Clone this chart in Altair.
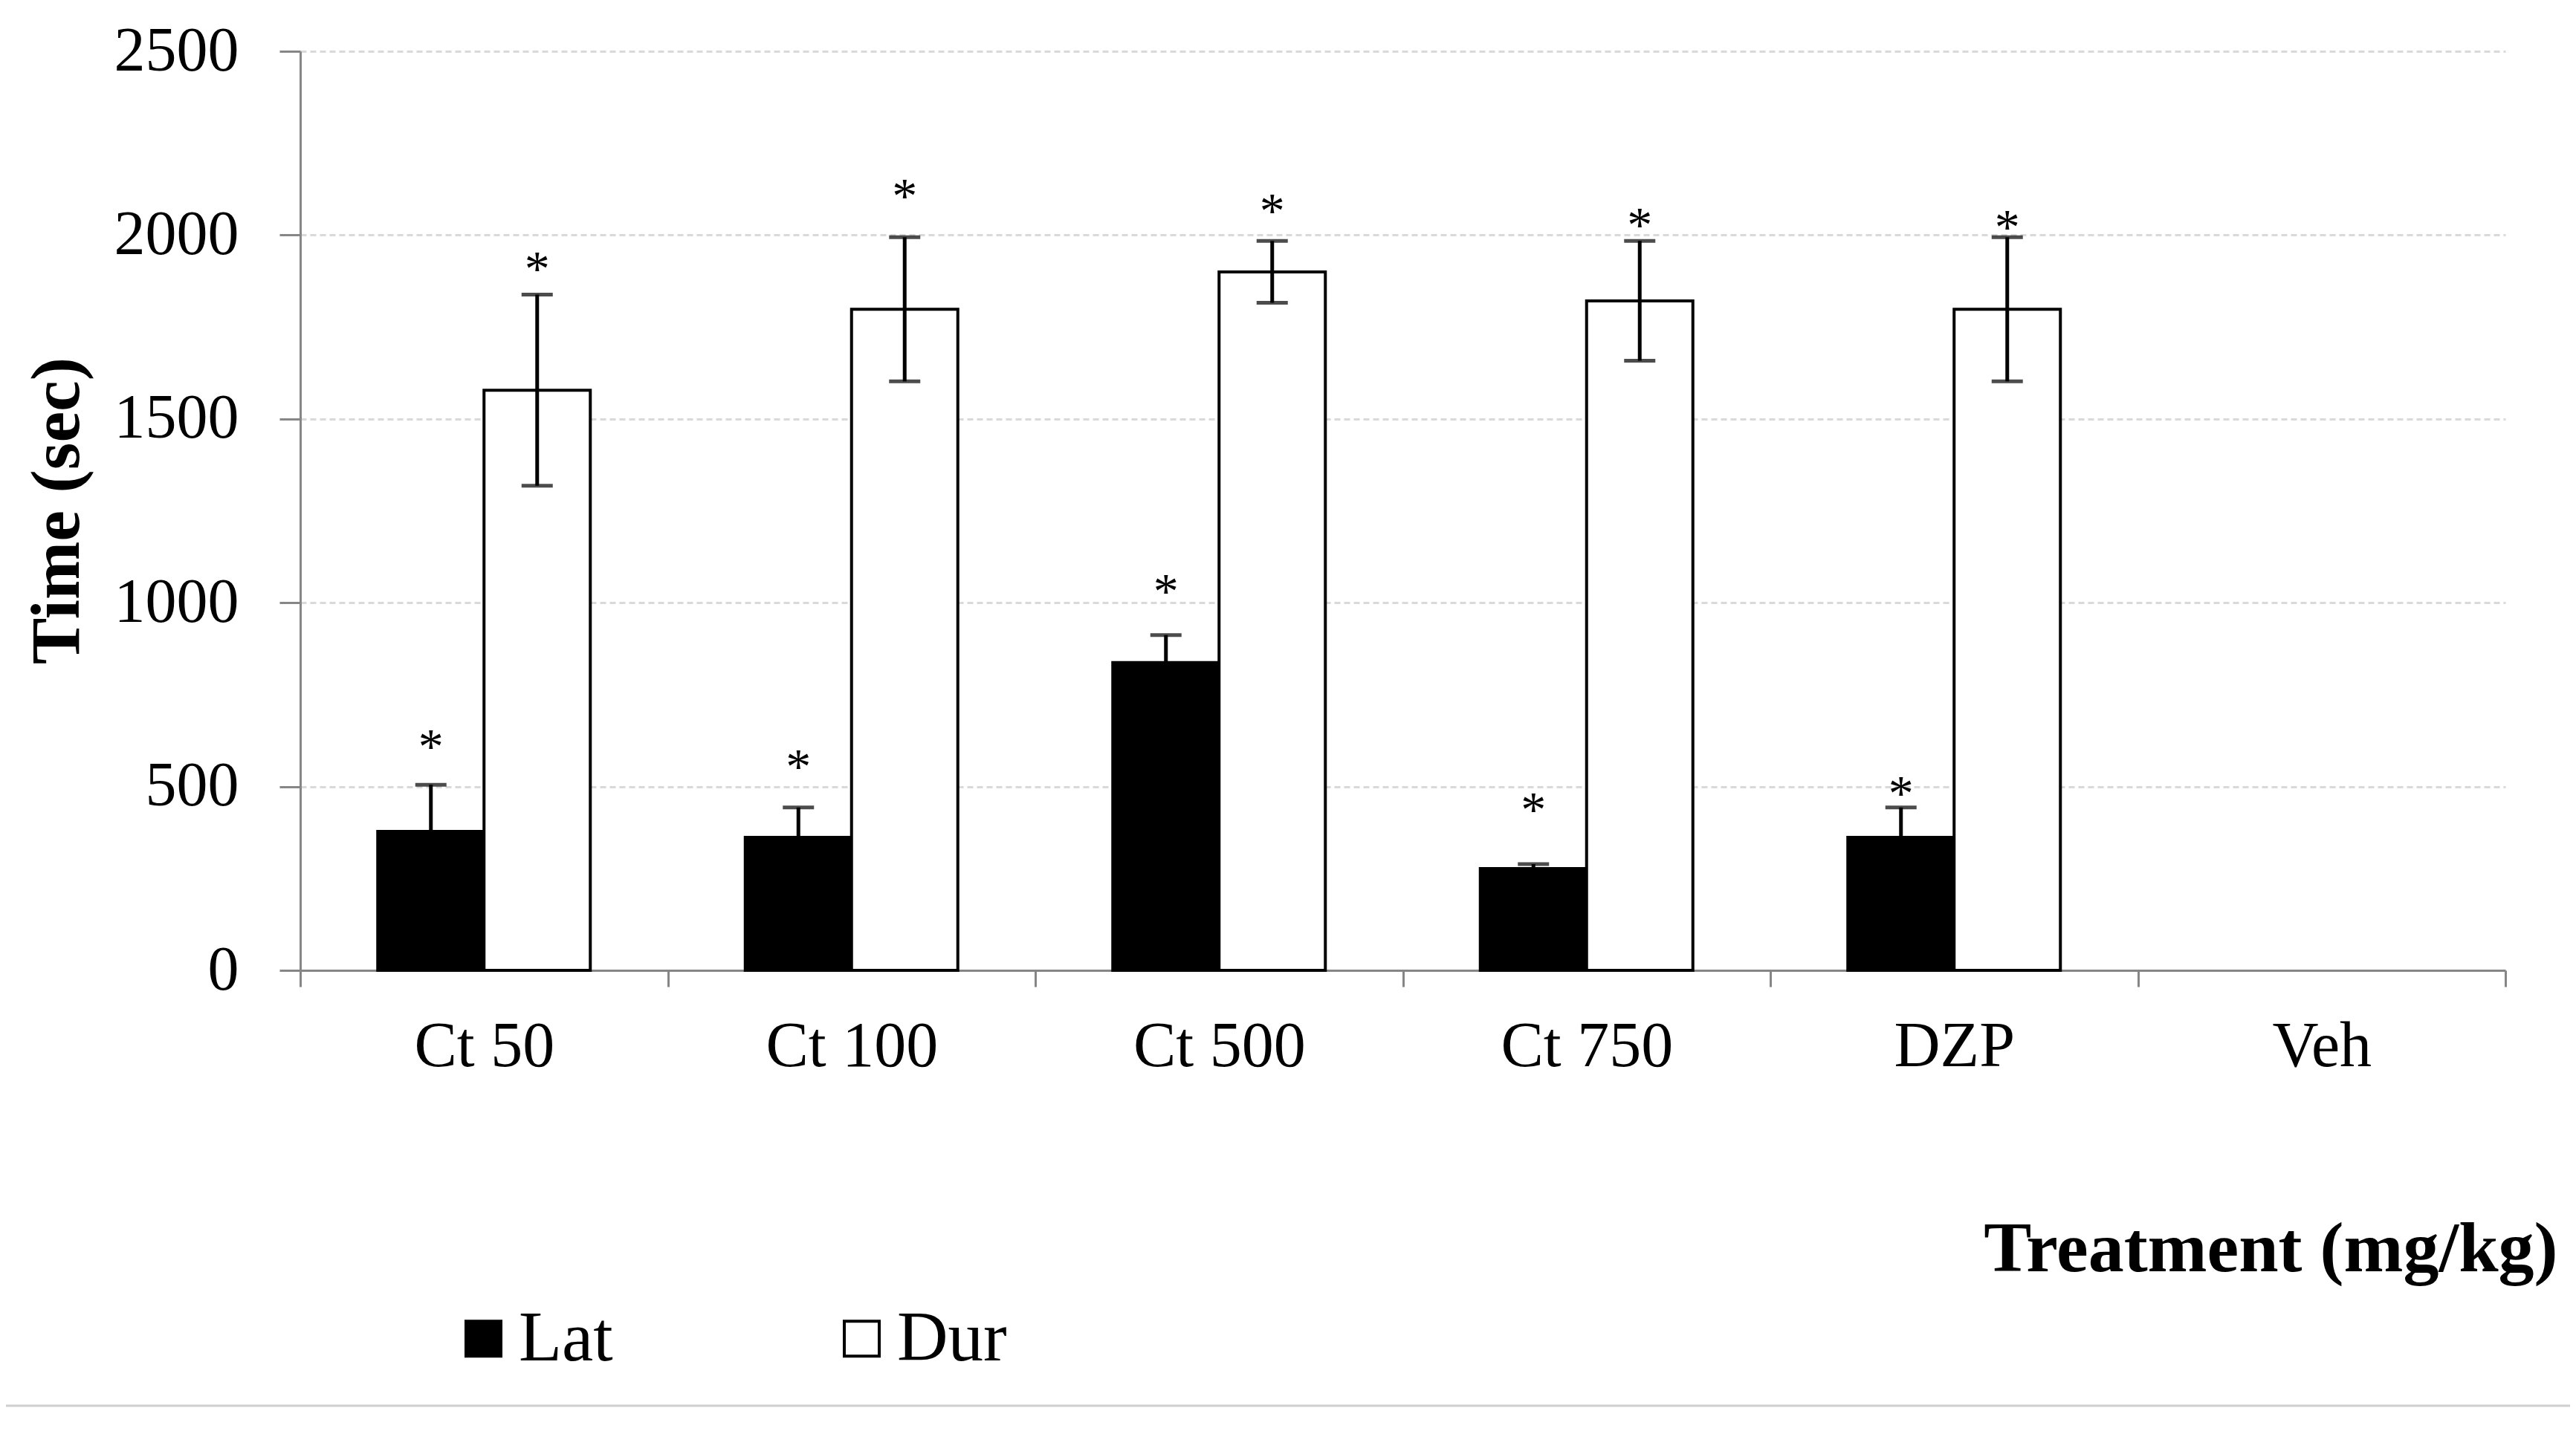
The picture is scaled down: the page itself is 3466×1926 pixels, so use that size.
import altair as alt
import pandas as pd

categories = ["Ct 50", "Ct 100", "Ct 500", "Ct 750", "DZP", "Veh"]
series = ["Lat", "Dur"]
lat_mean = [378, 362, 837, 277, 362]
lat_err = [127, 81, 75, 12, 81]
dur_mean = [1578, 1798, 1900, 1821, 1798]
dur_err = [260, 196, 84, 163, 196]
lat_star = [629, 574, 1051, 457, 501]
dur_star = [1928, 2126, 2086, 2047, 2041]
y_ticks = [0, 500, 1000, 1500, 2000, 2500]

rows = []
for i, c in enumerate(categories[:5]):
    rows.append(dict(treatment=c, series="Lat", mean=lat_mean[i],
                     lo=lat_mean[i] - lat_err[i], hi=lat_mean[i] + lat_err[i], star=lat_star[i]))
    rows.append(dict(treatment=c, series="Dur", mean=dur_mean[i],
                     lo=dur_mean[i] - dur_err[i], hi=dur_mean[i] + dur_err[i], star=dur_star[i]))
df = pd.DataFrame(rows)

FONT = "Liberation Serif"
GRAY = "#868686"

x_enc = alt.X(
    "treatment:N",
    scale=alt.Scale(domain=categories, paddingInner=0, paddingOuter=0),
    sort=categories,
    axis=alt.Axis(
        title="Treatment (mg/kg)",
        domainColor=GRAY, domainWidth=3,
        tickColor=GRAY, tickWidth=3, tickSize=22, tickBand="extent",
        labelFont=FONT, labelFontSize=86, labelColor="black", labelLimit=0,
        labelPadding=106, labelBaseline="alphabetic", labelAngle=0,
        grid=False,
        titleFont=FONT, titleFontSize=96, titleFontWeight="bold", titleColor="black",
        titleAlign="right", titleBaseline="alphabetic", titleX=3037, titleY=404,
    ),
)
xoff_enc = alt.XOffset(
    "series:N",
    scale=alt.Scale(domain=series, paddingInner=0, paddingOuter=0.729),
)
y_scale = alt.Scale(domain=[0, 2500], nice=False, zero=True)
y_axis = alt.Axis(
    title="Time (sec)", values=y_ticks, format="d",
    domainColor=GRAY, domainWidth=3,
    tickColor=GRAY, tickWidth=3, tickSize=28,
    labelFont=FONT, labelFontSize=84, labelColor="black", labelPadding=55, labelLimit=0,
    grid=True, gridColor="#d9d9d9", gridDash=[8, 5], gridWidth=3,
    titleFont=FONT, titleFontSize=94, titleFontWeight="bold", titleColor="black",
    titleAlign="center", titleBaseline="alphabetic", titleX=-299, titleY=618,
)

base = alt.Chart(df)

bars = base.mark_bar(stroke="black", strokeWidth=4).encode(
    x=x_enc,
    xOffset=xoff_enc,
    y=alt.Y("mean:Q", scale=y_scale, axis=y_axis),
    color=alt.Color(
        "series:N",
        scale=alt.Scale(domain=series, range=["#000000", "#ffffff"]),
        legend=alt.Legend(
            title=None, orient="none", legendX=199, legendY=1685,
            direction="horizontal", symbolType="square", symbolSize=2209,
            symbolStrokeColor="black", symbolStrokeWidth=4,
            labelFont=FONT, labelFontSize=95, labelColor="black",
            labelOffset=0, columnPadding=287,
        ),
    ),
)

err_rules = base.mark_rule(color="black", strokeWidth=5).encode(
    x=x_enc, xOffset=xoff_enc,
    y=alt.Y("lo:Q", scale=y_scale, axis=y_axis), y2="hi:Q",
)
caps_hi = base.mark_tick(color="black", thickness=5, size=42).encode(
    x=x_enc, xOffset=xoff_enc, y=alt.Y("hi:Q", scale=y_scale, axis=y_axis),
)
caps_lo = base.mark_tick(color="black", thickness=5, size=42).encode(
    x=x_enc, xOffset=xoff_enc, y=alt.Y("lo:Q", scale=y_scale, axis=y_axis),
)
stars = base.mark_text(text="*", font=FONT, fontSize=68, baseline="middle",
                       dy=12, color="black").encode(
    x=x_enc, xOffset=xoff_enc, y=alt.Y("star:Q", scale=y_scale, axis=y_axis),
)
bottom_line = alt.Chart(alt.Data(values=[{"a": 1}])).mark_rule(
    color="#cfcfcf", strokeWidth=3
).encode(x=alt.value(-404), x2=alt.value(3062), y=alt.value(1823))

chart = alt.layer(bars, err_rules, caps_hi, caps_lo, stars, bottom_line).properties(
    width=2967, height=1237,
    autosize=alt.AutoSizeParams(type="none"),
    padding={"left": 396, "top": 61, "right": 87, "bottom": 600},
).configure(background="white").configure_view(stroke=None)

chart.save("out.html", embed_options={"renderer": "svg", "actions": False})
